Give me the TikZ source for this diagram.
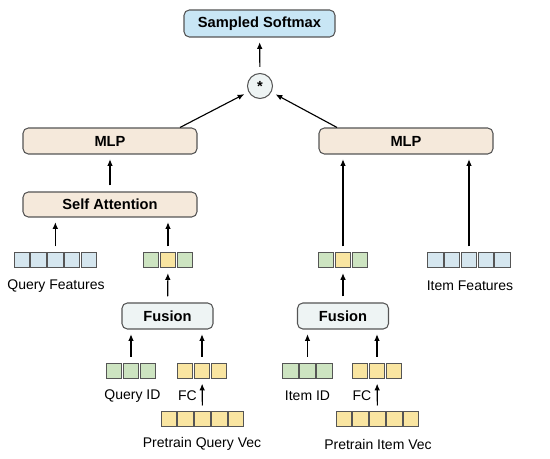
\documentclass[tikz,border=0pt]{standalone}
\usepackage{fontspec}
\setmainfont{Liberation Sans}
\usetikzlibrary{arrows.meta,positioning,calc}
\definecolor{edge-gray}{HTML}{555555}
\definecolor{softmax-blue}{HTML}{C8E6F5}
\definecolor{mlp-beige}{HTML}{F5E9DB}
\definecolor{fusion-gray}{HTML}{EEF4F4}
\definecolor{feat-blue}{HTML}{D5E6EF}
\definecolor{id-green}{HTML}{CDE4C1}
\definecolor{vec-yellow}{HTML}{F9E5A1}
\tikzset{
    x=0.75pt,y=-0.75pt,
    arr/.style = {-{Latex[length=5pt,width=4.2pt]}, line width=0.85pt, shorten <=4.5pt, shorten >=3.5pt},
    block/.style = {rectangle, rounded corners=4pt, draw=edge-gray, line width=0.8pt, font=\bfseries\fontsize{11}{13}\selectfont, inner sep=0pt},
    mlpbox/.style = {block, fill=mlp-beige, minimum width=130.5pt, minimum height=19.5pt},
    fusionbox/.style = {block, fill=fusion-gray, minimum width=68.25pt, minimum height=19.5pt},
    sq/.style = {rectangle, draw=edge-gray, line width=0.75pt, minimum width=11.6pt, minimum height=11.25pt, inner sep=0pt},
    lbl/.style = {font=\fontsize{10.5}{12}\selectfont, inner sep=0pt}
}

\begin{document}
\begin{tikzpicture}
      \useasboundingbox (0,0) rectangle (550,459);

      % top
      \node[block, fill=softmax-blue, minimum width=113.25pt, minimum height=20.25pt] (smax) at (259.5,23.5) {Sampled Softmax};
      \node[circle, draw=edge-gray, line width=0.8pt, fill=fusion-gray, minimum size=18.75pt, inner sep=0pt, font=\bfseries\fontsize{11}{13}\selectfont] (prod) at (260,86) {*};

      % towers
      \node[mlpbox] (mlpQ) at (110,141) {MLP};
      \node[mlpbox] (mlpI) at (406,141) {MLP};
      \node[mlpbox, minimum height=18.75pt] (att) at (110,204.5) {Self Attention};
      \node[fusionbox] (fusQ) at (167.5,316) {Fusion};
      \node[fusionbox] (fusI) at (343,316) {Fusion};

      % feature rows
      \foreach \i in {1,...,5} {
        \node[sq, fill=feat-blue] (qf\i) at ({21.75+(\i-1)*16.8},260.5) {};
        \node[sq, fill=feat-blue] (if\i) at ({435.4+(\i-1)*16.8},260.5) {};
        \node[sq, fill=vec-yellow] (pq\i) at ({168.9+(\i-1)*16.8},419.5) {};
        \node[sq, fill=vec-yellow] (pi\i) at ({343.9+(\i-1)*16.8},419.5) {};
      }
      \foreach \i/\c in {1/id-green,2/vec-yellow,3/id-green} {
        \node[sq, fill=\c] (qm\i) at ({151.2+(\i-1)*16.8},260.5) {};
        \node[sq, fill=\c] (im\i) at ({326.2+(\i-1)*16.8},260.5) {};
      }
      \foreach \i in {1,...,3} {
        \node[sq, fill=id-green] (qid\i) at ({114.2+(\i-1)*16.8},371) {};
        \node[sq, fill=vec-yellow] (qfc\i) at ({185.2+(\i-1)*16.8},371) {};
        \node[sq, fill=id-green] (iid\i) at ({290.7+(\i-1)*16.8},371) {};
        \node[sq, fill=vec-yellow] (ifc\i) at ({360.2+(\i-1)*16.8},371) {};
      }

      % labels
      \node[lbl] (qfL) at (56,286) {Query Features};
      \node[lbl] (ifL) at (470,286) {Item Features};
      \node[lbl] (qidL) at (132.5,396) {Query ID};
      \node[lbl] (qfcL) at (187.5,396) {FC};
      \node[lbl] (iidL) at (307.5,396) {Item ID};
      \node[lbl] (ifcL) at (362,396) {FC};
      \node[lbl] (pqL) at (202,444) {Pretrain Query Vec};
      \node[lbl] (piL) at (378,444) {Pretrain Item Vec};

      % connectors
      \draw[arr] (prod) -- (smax);
      \draw[arr, shorten <=0pt] ([xshift=52.5pt]mlpQ.north) -- (prod);
      \draw[arr, shorten <=0pt] ([xshift=-51.75pt]mlpI.north) -- (prod);
      \draw[arr] (att) -- (mlpQ);
      \draw[arr] (qf3) -- (qf3 |- att.south);
      \draw[arr] (qm2) -- (qm2 |- att.south);
      \draw[arr] (fusQ) -- (qm2);
      \draw[arr] (qid2) -- (qid2 |- fusQ.south);
      \draw[arr] (qfc2) -- (qfc2 |- fusQ.south);
      \draw[arr] (pq3) -- (qfc2);
      \draw[arr] (im2) -- (im2 |- mlpI.south);
      \draw[arr] (if3) -- (if3 |- mlpI.south);
      \draw[arr] (fusI) -- (im2);
      \draw[arr] (iid2) -- (iid2 |- fusI.south);
      \draw[arr] (ifc2) -- (ifc2 |- fusI.south);
      \draw[arr] (pi3) -- (ifc2);
    \end{tikzpicture}
\end{document}
